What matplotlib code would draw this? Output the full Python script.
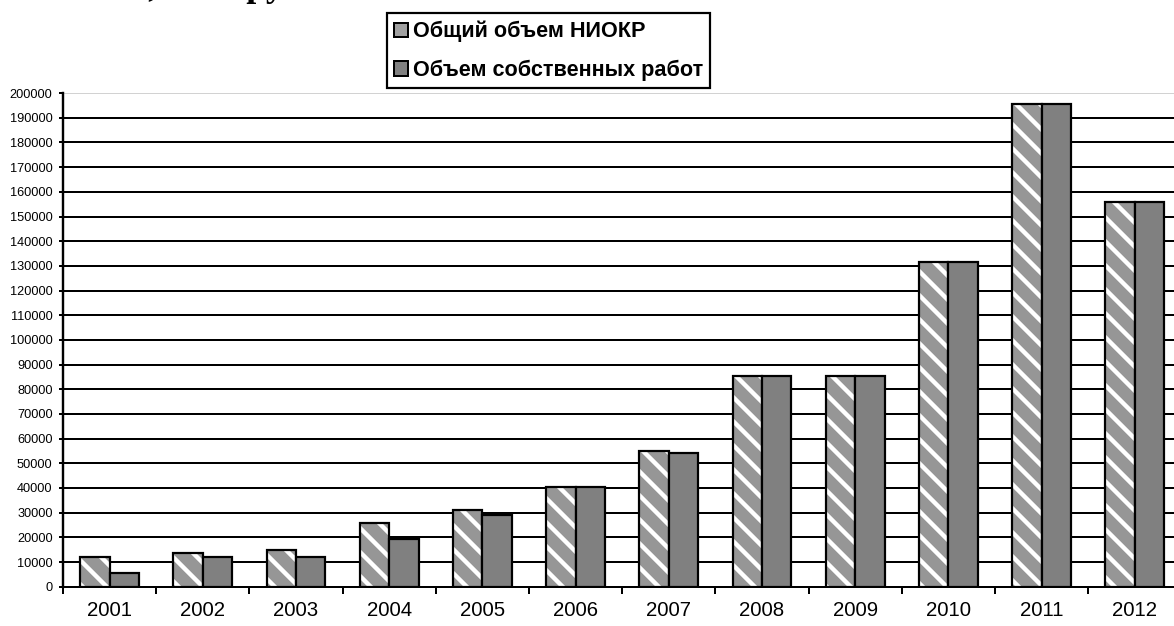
import numpy as np
import matplotlib
matplotlib.use('Agg')
import matplotlib.pyplot as plt
from matplotlib.patches import Patch

# values (thousand roubles)
years = ['2001', '2002', '2003', '2004', '2005', '2006',
         '2007', '2008', '2009', '2010', '2011', '2012']
total = [12200, 13800, 14800, 26000, 31000, 40500,
         55000, 85200, 85200, 131500, 195500, 156000]
own = [5700, 11900, 11900, 19300, 29000, 40200,
       54000, 85200, 85200, 131500, 195500, 156000]
labels = ['Общий объем НИОКР', 'Объем собственных работ']
title = 'Объем НИОКР, тыс. руб.'

DPI = 144
W, H = 1174, 626
plt.rcParams['font.family'] = ['Liberation Sans', 'DejaVu Sans']
plt.rcParams['hatch.linewidth'] = 2.2

fig = plt.figure(figsize=(W / DPI, H / DPI), dpi=DPI)
# plot area runs past the right edge of the picture, as in the original
ax = fig.add_axes([63 / W, (H - 586.7) / H, 1118.4 / W, 493.6 / H])

x = np.arange(len(years))
bw = 0.316

# gridlines
yticks = np.arange(0, 200001, 10000)
for v in yticks[1:-1]:
    ax.axhline(v, color='black', lw=1.0, zorder=1)
ax.axhline(yticks[-1], color='#c8c8c8', lw=0.8, zorder=1)

# hatched series: gray with white stripes, then black outline on top
ax.bar(x - bw / 2, total, bw, color='#969696', edgecolor='white',
       hatch='\\\\', linewidth=0, zorder=2)
ax.bar(x - bw / 2, total, bw, fill=False, edgecolor='black',
       linewidth=1.1, zorder=3)
ax.bar(x + bw / 2, own, bw, color='#808080', edgecolor='black',
       linewidth=1.1, zorder=3)

ax.set_xlim(-0.5, 11.5)
ax.set_ylim(0, 200000)

for s in ['top', 'right']:
    ax.spines[s].set_visible(False)
ax.spines['left'].set_linewidth(1.2)
ax.spines['bottom'].set_linewidth(1.0)
ax.spines['left'].set_zorder(4)
ax.spines['bottom'].set_zorder(4)

ax.set_yticks(yticks)
ax.set_yticklabels([str(v) for v in yticks], fontsize=6.4)
ax.tick_params(axis='y', direction='out', length=2.2, width=1.0, pad=3)

ax.set_xticks(x)
ax.set_xticklabels(years, fontsize=10.2)
ax.tick_params(axis='x', which='major', length=0, pad=7)
ax.set_xticks(np.arange(-0.5, 12, 1), minor=True)
ax.tick_params(axis='x', which='minor', direction='out', length=3.5, width=1.0)

handles = [Patch(facecolor='#a0a0a0', edgecolor='black', linewidth=1.0),
           Patch(facecolor='#808080', edgecolor='black', linewidth=1.0)]
leg = fig.legend(handles, labels, loc='upper left',
                 bbox_to_anchor=(386.7 / W, 1 - 13.3 / H),
                 prop={'weight': 'bold', 'size': 10.8},
                 frameon=True, fancybox=False, framealpha=1,
                 handlelength=0.65, handleheight=0.65, handletextpad=0.2,
                 labelspacing=0.8, borderpad=0.35, borderaxespad=0)
leg.get_frame().set_edgecolor('black')
leg.get_frame().set_linewidth(1.1)

# caption above the chart, cut off by the top edge in the original
tkw = dict(family='Liberation Serif', weight='bold', size=18)
r = fig.canvas.get_renderer()
tmp = fig.text(0, 0, title.split(',')[0], **tkw)
w = tmp.get_window_extent(r).width
tmp.remove()
fig.text((153 - w) / W, 1 + 3.8 / H, title, va='baseline', **tkw)

fig.savefig('out.png', dpi=DPI, facecolor='white')
